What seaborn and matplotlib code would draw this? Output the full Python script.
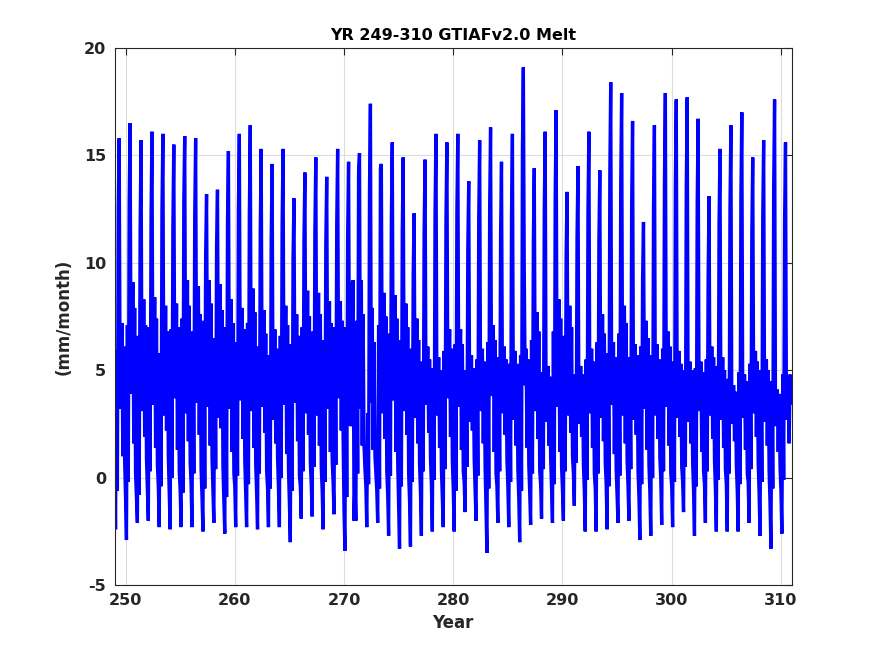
import numpy as np
import pandas as pd
import matplotlib
matplotlib.use("Agg")
import matplotlib.pyplot as plt
import seaborn as sns

# Monthly melt (mm/month), one row per model year, Jan..Dec
first_year = 249
melt_by_year = [
    [0.7, -2.4, 5.9, -0.6, 12.6, 15.8, 4.4, 3.2, 7.2, 1.0, 6.1, 0.8],
    [-0.9, -2.9, 7.1, -0.2, 12.8, 16.5, 4.9, 3.9, 9.1, 1.6, 7.9, 0.2],
    [-1.0, -2.1, 6.6, -0.8, 11.4, 15.7, 4.3, 3.1, 8.3, 1.9, 7.1, 0.9],
    [-0.5, -2.0, 7.0, 0.3, 12.0, 16.1, 4.6, 3.4, 8.4, 1.4, 7.4, 0.6],
    [-0.4, -2.3, 5.8, -0.4, 12.4, 16.0, 4.2, 2.9, 8.0, 2.2, 6.8, 1.0],
    [-0.8, -2.4, 6.9, 0.0, 11.7, 15.5, 4.7, 3.7, 8.1, 1.3, 7.0, 0.3],
    [-0.6, -2.3, 7.4, -0.7, 12.9, 15.9, 4.0, 3.0, 9.2, 1.7, 8.0, 0.7],
    [-0.3, -2.3, 6.8, 0.2, 12.2, 15.8, 4.5, 3.5, 8.9, 2.0, 7.6, 0.4],
    [-0.9, -2.5, 7.3, -0.5, 10.4, 13.2, 4.4, 3.3, 9.2, 1.5, 8.1, 0.9],
    [-0.6, -2.1, 6.5, 0.4, 10.8, 13.4, 3.8, 2.8, 9.0, 2.3, 7.8, 0.5],
    [-1.1, -2.6, 7.0, -0.9, 11.9, 15.2, 4.1, 3.2, 8.3, 1.2, 7.2, 0.2],
    [-0.4, -2.3, 6.3, 0.1, 12.5, 16.0, 4.6, 3.6, 7.9, 1.8, 6.9, 0.8],
    [-0.8, -2.3, 7.2, -0.3, 12.3, 16.4, 4.5, 3.1, 8.8, 1.4, 7.7, 0.6],
    [-0.7, -2.4, 6.1, 0.2, 11.6, 15.3, 4.3, 3.3, 7.8, 2.1, 6.7, 0.3],
    [-0.5, -2.3, 5.7, -0.5, 11.1, 14.6, 3.9, 2.7, 6.9, 1.6, 6.0, 0.9],
    [-0.5, -2.3, 6.6, 0.0, 11.8, 15.3, 4.2, 3.4, 8.0, 1.1, 7.1, 0.4],
    [-1.2, -3.0, 6.2, -0.6, 10.2, 13.0, 4.5, 3.5, 7.6, 1.7, 6.6, 0.1],
    [-0.4, -1.9, 7.0, 0.3, 11.0, 14.2, 4.6, 3.0, 8.7, 2.0, 7.5, 0.7],
    [-0.3, -1.8, 6.8, 0.5, 11.5, 14.9, 3.8, 2.9, 8.6, 1.5, 7.6, 0.5],
    [-0.6, -2.4, 6.4, -0.2, 10.9, 14.0, 4.3, 3.2, 8.2, 1.2, 7.2, 0.8],
    [-0.2, -1.7, 7.0, 0.6, 11.8, 15.3, 4.7, 3.7, 8.2, 2.2, 7.3, 1.9],
    [-1.5, -3.4, 7.0, -0.9, 11.3, 14.7, 4.7, 2.4, 9.1, 2.4, 9.2, -2.0],
    [-0.2, -2.0, 7.3, 0.2, 14.2, 15.1, 3.2, 9.2, 1.5, 7.6, 1.5, 0.4],
    [-0.4, -2.3, 3.0, -0.3, 13.4, 17.4, 3.5, 7.9, 1.3, 6.3, 1.0, 0.2],
    [-0.6, -2.1, 7.1, -0.5, 14.4, 14.6, 4.1, 3.0, 8.6, 1.8, 7.5, 0.3],
    [-0.8, -2.7, 6.7, 0.1, 12.0, 15.6, 4.6, 3.6, 8.5, 1.2, 7.4, 0.7],
    [-1.3, -3.3, 6.4, -0.4, 11.5, 14.9, 4.4, 3.1, 8.1, 2.0, 7.0, 0.2],
    [-1.1, -3.2, 6.0, -0.2, 9.5, 12.3, 3.9, 2.8, 7.4, 1.6, 6.4, 0.6],
    [-0.7, -2.7, 5.4, 0.3, 11.4, 14.8, 4.4, 3.4, 6.1, 2.1, 5.5, 0.9],
    [-0.3, -2.5, 5.1, -0.1, 12.3, 16.0, 4.0, 2.9, 5.6, 1.4, 5.0, 0.4],
    [-0.9, -2.3, 5.9, 0.4, 12.0, 15.6, 4.7, 3.7, 6.9, 1.9, 6.0, 0.8],
    [-0.5, -2.5, 6.2, -0.6, 12.4, 16.0, 4.3, 3.3, 6.9, 1.3, 6.2, 0.3],
    [-0.2, -1.6, 5.0, 0.5, 10.7, 13.8, 3.5, 2.6, 5.7, 2.2, 5.1, 0.9],
    [-0.6, -2.0, 5.5, 0.1, 12.1, 15.7, 4.1, 3.1, 6.0, 1.6, 5.4, 0.5],
    [-1.4, -3.5, 6.3, -0.5, 12.6, 16.3, 4.8, 3.8, 7.1, 1.2, 6.4, 0.2],
    [-0.4, -2.1, 5.6, 0.3, 11.3, 14.7, 4.4, 3.0, 6.1, 2.0, 5.5, 0.8],
    [-0.4, -2.3, 5.3, -0.2, 12.2, 16.0, 3.6, 2.7, 5.9, 1.5, 5.3, 0.4],
    [-1.0, -3.0, 5.7, -0.6, 15.3, 19.1, 9.7, 4.3, 6.0, 1.4, 5.5, 0.6],
    [-0.7, -2.2, 6.4, 0.2, 11.0, 14.4, 3.9, 3.1, 7.7, 1.8, 6.8, 0.3],
    [-0.3, -1.9, 4.9, 0.4, 12.5, 16.1, 3.4, 2.6, 5.2, 1.5, 4.7, 0.9],
    [-0.5, -2.1, 6.8, -0.3, 13.1, 17.1, 4.2, 3.3, 8.3, 1.2, 7.4, 0.5],
    [-0.6, -2.0, 6.6, 0.3, 10.3, 13.3, 3.7, 2.9, 8.0, 2.1, 7.0, 1.0],
    [0.2, -1.3, 4.8, 0.7, 11.2, 14.5, 3.3, 2.5, 5.2, 1.9, 4.8, 0.6],
    [-0.6, -2.5, 5.5, -0.1, 12.4, 16.1, 4.0, 3.0, 6.0, 1.4, 5.4, 0.2],
    [-0.5, -2.5, 6.3, 0.2, 11.0, 14.3, 3.6, 2.8, 7.6, 1.7, 6.7, 0.7],
    [-0.3, -2.4, 5.8, -0.4, 14.1, 18.4, 4.5, 3.4, 6.3, 1.1, 5.6, 0.4],
    [-0.8, -2.1, 6.7, 0.1, 13.8, 17.9, 3.9, 2.9, 8.0, 1.6, 7.2, 0.8],
    [-0.4, -2.0, 5.6, 0.4, 12.7, 16.6, 3.5, 2.7, 6.2, 2.0, 5.7, 0.3],
    [-0.9, -2.9, 6.1, -0.3, 9.3, 11.9, 4.1, 3.2, 7.3, 1.3, 6.5, 0.6],
    [-0.7, -2.7, 5.7, 0.0, 12.6, 16.4, 3.8, 2.9, 6.2, 1.8, 5.5, 0.9],
    [-0.1, -2.2, 6.0, 0.3, 13.7, 17.9, 4.2, 3.3, 6.8, 1.5, 6.1, 0.2],
    [-0.4, -2.3, 5.4, -0.2, 13.5, 17.6, 3.6, 2.8, 5.9, 1.9, 5.3, 0.5],
    [-0.2, -1.6, 5.0, 0.5, 13.6, 17.7, 3.4, 2.6, 5.4, 1.6, 5.0, 0.7],
    [-0.6, -2.7, 5.1, -0.4, 12.8, 16.7, 4.0, 3.1, 5.4, 1.2, 4.9, 0.3],
    [-0.3, -2.1, 5.5, 0.3, 9.3, 13.1, 3.7, 2.9, 6.1, 1.8, 5.6, 0.8],
    [-0.5, -2.5, 5.2, -0.1, 11.8, 15.3, 3.5, 2.7, 5.6, 1.4, 5.0, 0.4],
    [-0.3, -2.5, 4.6, 0.2, 12.5, 16.4, 3.2, 2.5, 4.3, 1.7, 4.0, 0.6],
    [-0.6, -2.5, 4.9, -0.3, 13.1, 17.0, 3.6, 2.8, 4.8, 1.3, 4.5, 0.2],
    [-0.2, -2.1, 5.3, 0.4, 11.4, 14.9, 3.9, 3.0, 5.9, 1.9, 5.4, 0.7],
    [-0.7, -2.7, 5.0, -0.2, 12.1, 15.7, 3.4, 2.6, 5.5, 1.5, 5.0, 0.3],
    [-1.2, -3.3, 4.5, -0.5, 13.5, 17.6, 3.1, 2.4, 4.1, 1.2, 3.9, 0.5],
    [-0.6, -2.6, 4.8, -0.1, 12.0, 15.6, 3.5, 2.7, 4.7, 1.6, 4.8, 3.4],
]

title_text = "YR 249-310 GTIAFv2.0 Melt"
x_label = "Year"
y_label = "(mm/month)"
x_ticks = [250, 260, 270, 280, 290, 300, 310]
y_ticks = [-5, 0, 5, 10, 15, 20]

# Build tidy frame (time axis in fractional years, monthly)
melt = np.array(melt_by_year).ravel()
time = first_year + np.arange(melt.size) / 12.0
df = pd.DataFrame({"time": time, "melt": melt})

sns.set_style("white")
plt.rcParams["font.family"] = ["DejaVu Sans"]
plt.rcParams["font.weight"] = "bold"

fig = plt.figure(figsize=(8.75, 6.56), dpi=100)
ax = fig.add_axes([0.131, 0.108, 0.774, 0.819])

sns.lineplot(data=df, x="time", y="melt", ax=ax, color=(0, 0, 1),
             linewidth=2.4, estimator=None, sort=False,
             solid_joinstyle="bevel", solid_capstyle="butt")

ax.set_xlim(249, 311)
ax.set_ylim(-5, 20)
ax.set_xticks(x_ticks)
ax.set_yticks(y_ticks)
ax.set_xticklabels([str(t) for t in x_ticks])
ax.set_yticklabels([str(t) for t in y_ticks])

ax.grid(True, color="#dcdcdc", linewidth=0.8)
ax.set_axisbelow(True)
for s in ax.spines.values():
    s.set_color("#262626")
    s.set_linewidth(0.8)
ax.tick_params(direction="in", length=5, width=0.8, colors="#262626",
               top=True, right=True, labelsize=11.5, pad=6)
for lab in ax.get_xticklabels() + ax.get_yticklabels():
    lab.set_fontweight("bold")

ax.set_xlabel(x_label, fontsize=12, fontweight="bold", color="#262626", labelpad=4)
ax.set_ylabel(y_label, fontsize=12, fontweight="bold", color="#262626", labelpad=8)
ax.set_title(title_text, fontsize=11.5, fontweight="bold", color="black", pad=6)

fig.savefig("out.png", dpi=100, facecolor="white")
